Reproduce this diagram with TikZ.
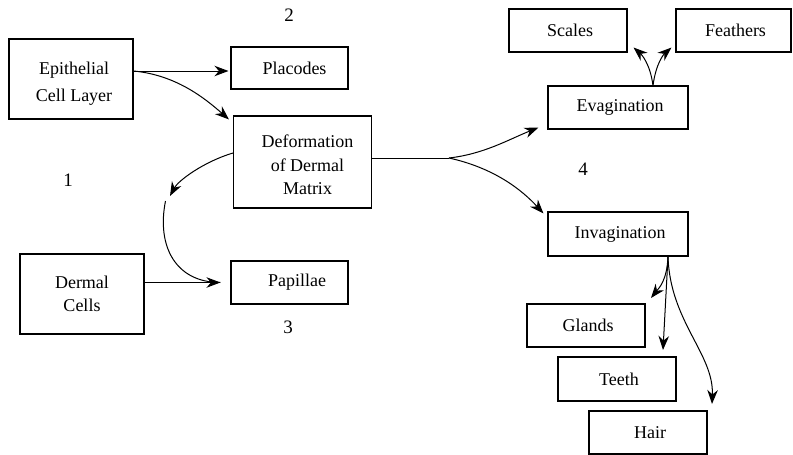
\documentclass[tikz,border=0pt]{standalone}
\usepackage{fontspec}
\setmainfont{Liberation Serif}
\usetikzlibrary{arrows.meta}
% push a line of box text to the right by half the given width
\newcommand\nudge[1]{\hspace*{#1}}
\begin{document}
\begin{tikzpicture}[x=1pt,y=-1pt,line width=1pt,
  box/.style={draw,line width=1.1pt,inner sep=0pt,align=center,
    font=\fontsize{18}{23.5}\selectfont},
  small/.style={box,minimum width=118pt,minimum height=43pt},
  numlbl/.style={font=\fontsize{19}{22}\selectfont},
  arr/.style={-{Stealth[length=14pt,width=10.5pt,inset=4.5pt]}}]
\useasboundingbox (0,0) rectangle (793,455);

% boxes
\node[box,minimum width=124pt,minimum height=80pt] (epi) at (71,79)
  {\rule{0pt}{21pt}\nudge{6pt}Epithelial\\[3.5pt]\nudge{6pt}Cell Layer};
\node[box,minimum width=117pt,minimum height=42pt] (plac) at (289.5,68) {\nudge{10pt}Placodes};
\node[box,minimum width=138pt,minimum height=92pt] (deform) at (302.5,162)
  {\rule{0pt}{19pt}\nudge{10pt}Deformation\\\nudge{10pt}of Dermal\\\nudge{10pt}Matrix};
\node[box,minimum width=117pt,minimum height=43pt] (pap) at (289.5,282.5) {\nudge{15pt}Papillae};
\node[box,minimum width=124pt,minimum height=80pt] (derm) at (82,294) {Dermal\\Cells};
\node[small] (scales) at (568,30.5) {\nudge{4pt}Scales};
\node[box,minimum width=115pt,minimum height=43pt] (feath) at (733.5,30.5) {\nudge{4pt}Feathers};
\node[box,minimum width=140pt,minimum height=43pt] (evag) at (618,107.5) {\nudge{4pt}Evagination};
\node[box,minimum width=140pt,minimum height=44pt] (invag) at (618,234) {\nudge{4pt}Invagination};
\node[small] (glands) at (586,325.5) {\nudge{4pt}Glands};
\node[small,minimum height=44pt] (teeth) at (617,379) {\nudge{4pt}Teeth};
\node[small] (hair) at (648,432.5) {\nudge{4pt}Hair};

% stage numbers
\node[numlbl] (n1) at (68,180) {1};
\node[numlbl] (n2) at (289,15) {2};
\node[numlbl] (n3) at (288,327) {3};
\node[numlbl] (n4) at (583,169) {4};

% epithelial layer
\coordinate (epiout) at ([yshift=8pt]epi.east);
\draw[arr] (epiout) -- ([xshift=-2pt,yshift=-3pt]plac.west);
\draw[arr] (epiout) .. controls +(42,4) and +(-25,-22) .. ([xshift=-4pt,yshift=-4pt]deform.north west);

% dermal matrix to dermal cells and papillae
\coordinate (loopstart) at (165.5,201);
\coordinate (paptip) at ([xshift=-10pt]pap.west);
\draw[arr] ([yshift=9pt]deform.west) .. controls +(-30,9) and +(8,-15) .. (170,196);
\draw (loopstart) .. controls +(-9,45) and +(-45,0) .. (paptip);
\draw[arr] (derm.east |- paptip) -- (paptip);

% dermal matrix to evagination / invagination
\coordinate (fork) at (449,158);
\draw (deform.east |- fork) -- (fork);
\draw[arr] (fork) .. controls +(35,-4) and +(-30,12) .. ([xshift=-9pt,yshift=2pt]evag.south west);
\draw[arr] (fork) .. controls +(45,10) and +(-22,-24) .. ([xshift=-4pt,yshift=-2pt]invag.north west);

% evagination branches
\coordinate (evtop) at ([xshift=35pt]evag.north);
\draw[arr] (evtop) .. controls +(-3,-22) and +(8,7) .. ([xshift=6pt,yshift=5pt]scales.south east);
\draw[arr] (evtop) .. controls +(3,-22) and +(-8,7) .. ([xshift=-4pt,yshift=5pt]feath.south west);

% invagination branches
\coordinate (invbot) at ([xshift=50pt]invag.south);
\draw[arr] (invbot) .. controls +(-1,24) and +(8,-10) .. (651,298);
\draw[arr] (invbot) -- (663,350);
\draw[arr] (invbot) .. controls +(2,65) and +(2,-50) .. (712,404);
\end{tikzpicture}
\end{document}
